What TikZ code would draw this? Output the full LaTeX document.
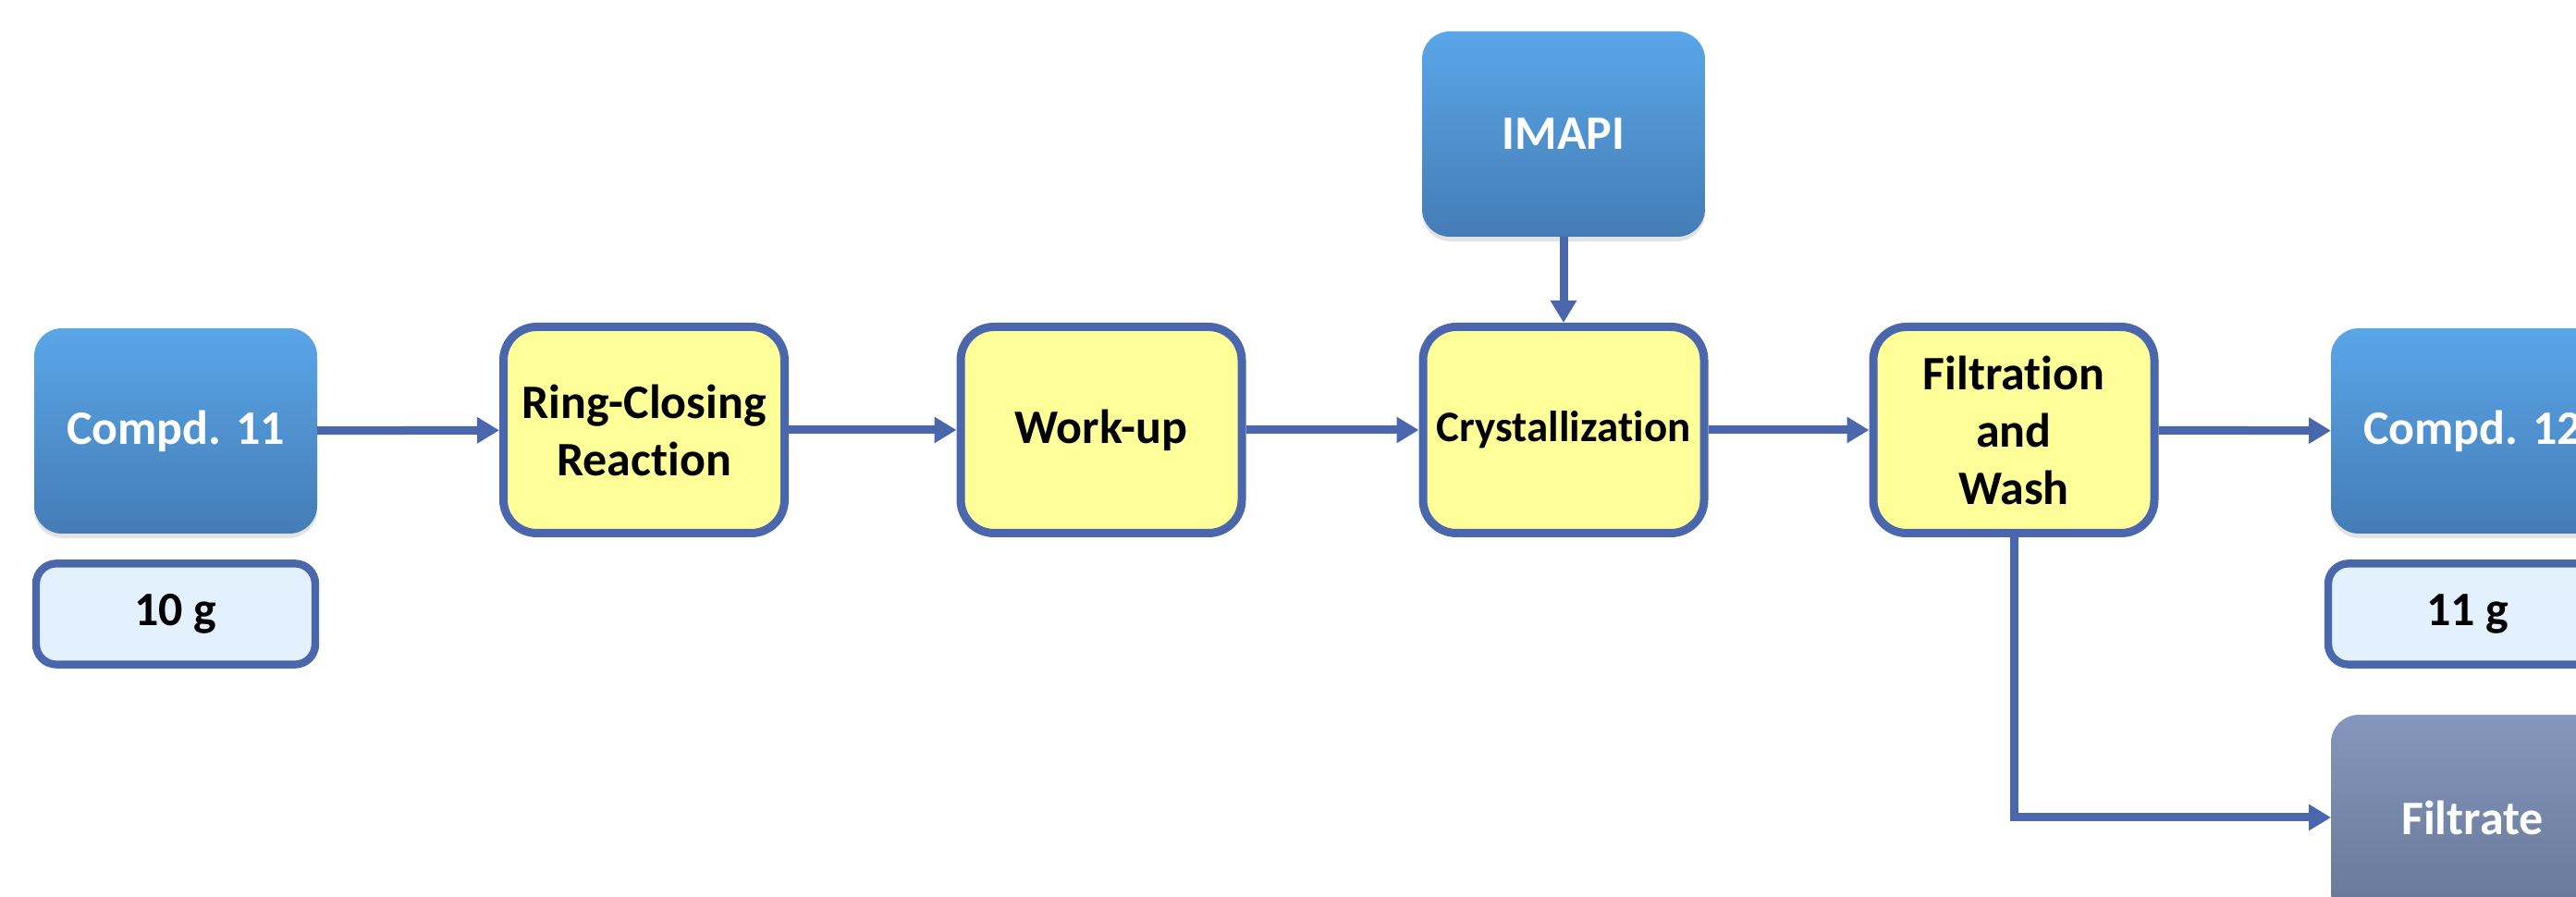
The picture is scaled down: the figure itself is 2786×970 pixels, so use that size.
\documentclass[tikz,border=0pt]{standalone}
\usepackage{fontspec}
\setmainfont{Carlito}[Ligatures=NoCommon]
\usetikzlibrary{arrows.meta,shadows}

\definecolor{flowline}{RGB}{74,102,172}
\definecolor{stepfill}{RGB}{255,255,153}
\definecolor{massfill}{RGB}{227,240,253}
\definecolor{chemtop}{RGB}{90,166,232}
\definecolor{chembot}{RGB}{68,124,182}
\definecolor{wastetop}{RGB}{132,151,188}
\definecolor{wastebot}{RGB}{102,118,150}

\tikzset{
  labelfont/.style={font=\bfseries\fontsize{13}{15.5}\selectfont},
  stepbox/.style={draw=flowline, line width=2.25pt, fill=stepfill,
    rounded corners=9pt, minimum width=76pt, minimum height=55.75pt,
    inner sep=0pt, align=center, labelfont},
  chembox/.style={rounded corners=7.5pt, minimum width=76.5pt,
    minimum height=55.5pt, inner sep=0pt, outer sep=0pt,
    top color=chemtop, bottom color=chembot, text=white, labelfont,
    drop shadow={opacity=0.22, shadow xshift=0pt, shadow yshift=-1.2pt}},
  wastebox/.style={chembox, top color=wastetop, bottom color=wastebot},
  massbox/.style={draw=flowline, line width=2.1pt, fill=massfill,
    rounded corners=5.5pt, minimum width=75.5pt, minimum height=27.3pt,
    inner sep=0pt, labelfont},
  flow/.style={draw=flowline, line width=2.25pt,
    -{Triangle[length=6pt,width=6.75pt]}}
}

\begin{document}
\begin{tikzpicture}[x=0.25pt,y=-0.25pt]
  \useasboundingbox (0,0) rectangle (2786,970);
  \clip (0,0) rectangle (2786,970);

  % starting material and its mass
  \node[chembox] (c11) at (190,466) {Compd. 11};
  \node[massbox] (m10) at (190,664) {10 g};

  % process steps
  \node[stepbox] (ring)  at (696.5,465) {Ring-Closing\\Reaction};
  \node[stepbox] (work)  at (1191,465) {Work-up};
  \node[stepbox, font=\bfseries\fontsize{11.75}{14}\selectfont]
                 (cryst) at (1691,465) {Crystallization};
  \node[stepbox] (filt)  at (2178,465) {Filtration\\and\\Wash};

  % added reagent
  \node[chembox] (imapi) at (1691,145) {IMAPI};

  % product, its mass, and the filtrate
  \node[chembox]  (c12)      at (2674,466) {Compd. 12};
  \node[massbox]  (m11)      at (2669,664) {11 g};
  \node[wastebox] (filtrate) at (2674,884) {Filtrate};

  % connectors
  \draw[flow] (c11) -- (ring);
  \draw[flow] (ring) -- (work);
  \draw[flow] (work) -- (cryst);
  \draw[flow] (cryst) -- (filt);
  \draw[flow] (filt) -- (c12);
  \draw[flow] (imapi) -- (cryst);
  \draw[flow] (filt.south) |- (filtrate.west);
\end{tikzpicture}
\end{document}
